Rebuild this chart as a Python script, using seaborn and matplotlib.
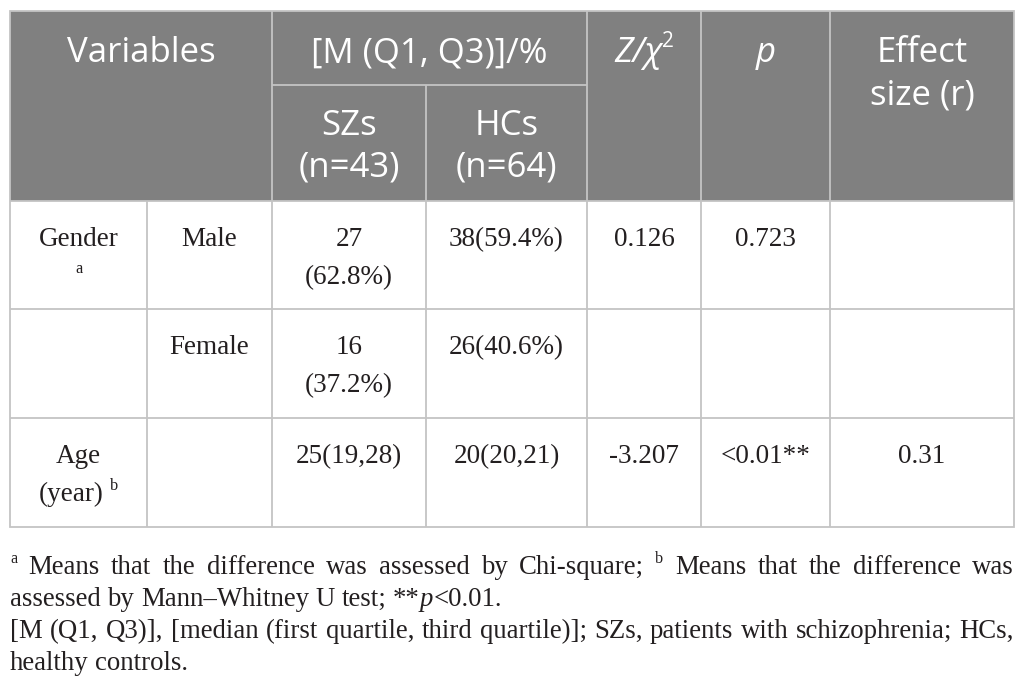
import matplotlib.pyplot as plt
import seaborn as sns
from matplotlib.patches import Rectangle

sns.set_theme(style="white")
plt.rcParams['font.family'] = ['Liberation Serif', 'DejaVu Serif']

# table contents ( _x_ = italic, ^x = superscript )
head_main = ["Variables", "[M (Q1, Q3)]/%", "_Z/χ_^2", "_p_", "Effect\nsize (r)"]
head_groups = ["SZs\n(n=43)", "HCs\n(n=64)"]
variables = ["Gender\n^a", "", "Age\n(year) ^b"]
levels = ["Male", "Female", ""]
szs = ["27\n(62.8%)", "16\n(37.2%)", "25(19,28)"]
hcs = ["38(59.4%)", "26(40.6%)", "20(20,21)"]
stat = ["0.126", "", "-3.207"]
pval = ["0.723", "", "<0.01**"]
effect = ["", "", "0.31"]

notes = [
    "^a Means that the difference was assessed by Chi-square; ^b Means that the difference was",
    "assessed by Mann–Whitney U test; **_p_<0.01.",
    "[M (Q1, Q3)], [median (first quartile, third quartile)]; SZs, patients with schizophrenia; HCs,",
    "healthy controls.",
]
justify = [True, False, True, False]

# layout (pixels)
W, H, DPI = 1026, 686, 100
xs = [10, 147, 272, 426, 587, 701, 830, 1014]
top, split, head_bot = 11, 85, 201
row_y = [201, 309, 418, 527]
head_bg = '#808080'
grid_c = '#c4c4c4'
ink = '#231f20'
SANS = ['Open Sans', 'DejaVu Sans']
SERIF = ['Liberation Serif', 'DejaVu Serif']

fig = plt.figure(figsize=(W / DPI, H / DPI), dpi=DPI)
ax = fig.add_axes([0, 0, 1, 1])
ax.set_xlim(0, W)
ax.set_ylim(H, 0)
ax.axis('off')
renderer = fig.canvas.get_renderer()


def parse(line):
    runs = []
    for i, seg in enumerate(line.split('_')):
        ital = i % 2 == 1
        for j, part in enumerate(seg.split('^')):
            if part:
                runs.append((part, ital, j > 0))
    return runs


def make_runs(runs, y, size, family, color):
    px = size * DPI / 72
    objs, widths = [], []
    for text, ital, sup in runs:
        gap = 0
        if text.endswith(' '):
            text = text.rstrip()
            gap = 0.25 * px
        t = ax.text(0, y - (0.42 * px if sup else 0), text,
                    fontsize=size * 0.6 if sup else size, family=family,
                    color=color, fontstyle='italic' if ital else 'normal',
                    va='baseline', ha='left')
        objs.append(t)
        widths.append(t.get_window_extent(renderer).width + gap)
    return objs, widths


def put(objs, widths, x):
    for t, w in zip(objs, widths):
        t.set_x(x)
        x += w


def cell(text, cx, y0, lh, size, family, color):
    for k, line in enumerate(text.split('\n')):
        if not line:
            continue
        objs, widths = make_runs(parse(line), y0 + k * lh, size, family, color)
        put(objs, widths, cx - sum(widths) / 2)


# header background and grid
ax.add_patch(Rectangle((xs[0], top), xs[-1] - xs[0], head_bot - top,
                       facecolor=head_bg, edgecolor='none'))
lw = 1.3
ax.vlines([xs[2], xs[4], xs[5], xs[6]], top, head_bot, color=grid_c, lw=lw)
ax.vlines(xs[3], split, head_bot, color=grid_c, lw=lw)
ax.hlines(split, xs[2], xs[4], color=grid_c, lw=lw)
ax.vlines(xs[1:-1], head_bot, row_y[-1], color=grid_c, lw=lw)
ax.hlines(row_y[:-1], xs[0], xs[-1], color=grid_c, lw=lw)
ax.add_patch(Rectangle((xs[0], top), xs[-1] - xs[0], row_y[-1] - top,
                       facecolor='none', edgecolor=grid_c, lw=lw))

# header text
HS = 25
head_cx = [(xs[0] + xs[2]) / 2, (xs[2] + xs[4]) / 2,
           (xs[4] + xs[5]) / 2, (xs[5] + xs[6]) / 2, (xs[6] + xs[7]) / 2]
for txt, cx in zip(head_main, head_cx):
    cell(txt, cx, 62, 42, HS, SANS, 'white')
for txt, cx in zip(head_groups, [(xs[2] + xs[3]) / 2, (xs[3] + xs[4]) / 2]):
    cell(txt, cx, 135, 42, HS, SANS, 'white')

# body text
BS = 19.5
cols = [variables, levels, szs, hcs, stat, pval, effect]
for c, values in enumerate(cols):
    cx = (xs[c] + xs[c + 1]) / 2
    for r, txt in enumerate(values):
        cell(txt, cx, row_y[r] + 45, 38, BS, SERIF, ink)

# footnotes
FS = 19.3
left, right = xs[0], xs[-1]
for k, (line, just) in enumerate(zip(notes, justify)):
    y = 574 + k * 32
    words = [make_runs(parse(w), y, FS, SERIF, ink) for w in line.split(' ')]
    total = sum(sum(w) for _, w in words)
    gap = (right - left - total) / (len(words) - 1) if just else 0.25 * FS * DPI / 72
    x = left
    for objs, widths in words:
        put(objs, widths, x)
        x += sum(widths) + gap

fig.savefig('out.png', dpi=DPI)
